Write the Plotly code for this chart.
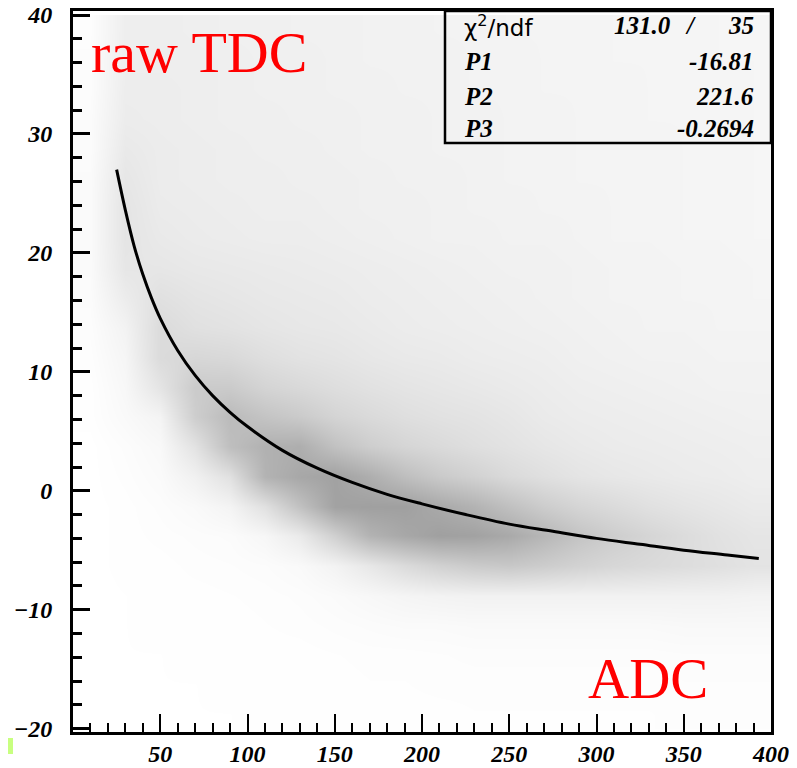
import plotly.graph_objects as go

# ---------------- data ----------------
# fit curve (ADC vs raw TDC)
fit_adc = [25, 30, 35, 40, 45, 50, 60, 70, 80, 90, 100, 120, 140, 160, 180,
           200, 225, 250, 275, 300, 325, 350, 375, 393]
fit_tdc = [27.0, 23.6, 20.6, 18.2, 16.2, 14.5, 11.8, 9.7, 8.0, 6.6, 5.4, 3.4,
           1.9, 0.7, -0.3, -1.1, -2.0, -2.8, -3.4, -4.0, -4.5, -5.0, -5.4, -5.7]

# scatter density (relative dot density) per ADC bin (20 wide) and TDC bin (2.5 wide)
adc_bins = [10, 30, 50, 70, 90, 110, 130, 150, 170, 190, 210, 230, 250, 270,
            290, 310, 330, 350, 370, 390]
tdc_bins = [-18.75, -16.25, -13.75, -11.25, -8.75, -6.25, -3.75, -1.25, 1.25,
            3.75, 6.25, 8.75, 11.25, 13.75, 16.25, 18.75, 21.25, 23.75, 26.25,
            28.75, 31.25, 33.75, 36.25, 38.75]
density_by_adc = [
    [0, 0, 0, 0, 0, 0, 0, 0, 0, 0, 0.1, 0.1, 0.2, 0.3, 0.4, 0.5, 0.5, 0.5, 0.5, 0.4, 0.4, 0.3, 0.3, 0.2],
    [0.05, 0.05, 0.05, 0.05, 0.05, 0.1, 0.1, 0.1, 0.2, 0.3, 0.6, 0.8, 1.0, 1.3, 2.0, 2.6, 2.8, 2.8, 2.6, 2.3, 2.0, 1.9, 1.8, 1.8],
    [0.05, 0.05, 0.05, 0.1, 0.1, 0.1, 0.2, 0.3, 0.5, 0.7, 1.2, 2.8, 3.8, 3.8, 3.2, 2.6, 2.3, 2.1, 2.0, 2.0, 1.9, 1.9, 1.8, 1.8],
    [0.05, 0.05, 0.1, 0.1, 0.1, 0.2, 0.3, 0.6, 1.5, 3.0, 5.2, 5.5, 4.2, 3.2, 2.8, 2.4, 2.1, 2.0, 1.9, 1.9, 1.8, 1.8, 1.8, 1.7],
    [0.05, 0.1, 0.1, 0.1, 0.15, 0.25, 0.4, 1.2, 3.2, 6.8, 7.2, 5.5, 4.0, 3.0, 2.6, 2.3, 2.0, 1.9, 1.8, 1.8, 1.7, 1.7, 1.7, 1.6],
    [0.1, 0.1, 0.1, 0.15, 0.2, 0.35, 0.9, 3.2, 8.0, 8.2, 6.2, 4.5, 3.4, 2.7, 2.4, 2.2, 1.9, 1.8, 1.8, 1.7, 1.7, 1.6, 1.6, 1.6],
    [0.1, 0.1, 0.1, 0.2, 0.3, 0.6, 2.2, 6.5, 9.2, 8.5, 5.5, 4.0, 3.0, 2.5, 2.3, 2.1, 1.9, 1.8, 1.7, 1.7, 1.6, 1.6, 1.6, 1.5],
    [0.1, 0.1, 0.15, 0.3, 0.5, 1.3, 5.0, 9.8, 9.8, 6.5, 4.5, 3.5, 2.8, 2.4, 2.2, 2.0, 1.8, 1.7, 1.7, 1.6, 1.6, 1.5, 1.5, 1.5],
    [0.1, 0.15, 0.2, 0.4, 0.8, 2.5, 8.0, 10.0, 8.5, 5.2, 3.9, 3.1, 2.5, 2.2, 2.0, 1.9, 1.7, 1.6, 1.6, 1.5, 1.5, 1.5, 1.4, 1.4],
    [0.1, 0.15, 0.2, 0.5, 1.1, 3.8, 9.2, 10.0, 6.8, 4.4, 3.4, 2.8, 2.3, 2.0, 1.9, 1.8, 1.6, 1.6, 1.5, 1.5, 1.5, 1.4, 1.4, 1.4],
    [0.1, 0.2, 0.25, 0.5, 1.3, 4.8, 10.0, 9.0, 5.6, 3.9, 3.1, 2.6, 2.2, 1.9, 1.8, 1.7, 1.5, 1.5, 1.5, 1.4, 1.4, 1.4, 1.4, 1.3],
    [0.15, 0.2, 0.3, 0.6, 1.4, 5.5, 9.8, 8.0, 4.8, 3.4, 2.9, 2.4, 2.0, 1.8, 1.7, 1.6, 1.5, 1.4, 1.4, 1.4, 1.4, 1.3, 1.3, 1.3],
    [0.15, 0.2, 0.3, 0.6, 1.4, 5.8, 9.0, 6.6, 3.9, 3.0, 2.6, 2.2, 1.9, 1.7, 1.6, 1.5, 1.4, 1.4, 1.3, 1.3, 1.3, 1.3, 1.3, 1.2],
    [0.15, 0.2, 0.3, 0.6, 1.4, 5.3, 7.6, 5.3, 3.3, 2.6, 2.2, 2.0, 1.8, 1.6, 1.5, 1.5, 1.4, 1.3, 1.3, 1.3, 1.3, 1.2, 1.2, 1.2],
    [0.15, 0.2, 0.3, 0.6, 1.4, 4.7, 6.2, 4.4, 2.8, 2.3, 2.0, 1.8, 1.6, 1.5, 1.4, 1.4, 1.3, 1.3, 1.2, 1.2, 1.2, 1.2, 1.2, 1.2],
    [0.15, 0.2, 0.3, 0.6, 1.4, 4.2, 5.2, 3.8, 2.5, 2.1, 1.9, 1.7, 1.5, 1.4, 1.3, 1.3, 1.2, 1.2, 1.2, 1.2, 1.2, 1.2, 1.1, 1.1],
    [0.15, 0.2, 0.3, 0.6, 1.4, 3.9, 4.4, 3.2, 2.3, 2.0, 1.8, 1.6, 1.4, 1.3, 1.3, 1.3, 1.2, 1.2, 1.2, 1.2, 1.1, 1.1, 1.1, 1.1],
    [0.2, 0.25, 0.35, 0.7, 1.4, 3.6, 3.7, 2.8, 2.1, 1.9, 1.7, 1.5, 1.4, 1.3, 1.2, 1.2, 1.1, 1.1, 1.1, 1.1, 1.1, 1.1, 1.1, 1.1],
    [0.2, 0.25, 0.35, 0.7, 1.4, 3.3, 3.1, 2.5, 2.0, 1.8, 1.6, 1.4, 1.3, 1.2, 1.2, 1.2, 1.1, 1.1, 1.1, 1.1, 1.1, 1.1, 1.0, 1.0],
    [0.2, 0.25, 0.35, 0.7, 1.3, 2.9, 2.7, 2.2, 1.8, 1.7, 1.5, 1.4, 1.3, 1.2, 1.1, 1.1, 1.0, 1.0, 1.0, 1.0, 1.0, 1.0, 1.0, 1.0],
]

x_tick_vals = [50, 100, 150, 200, 250, 300, 350, 400]
y_tick_vals = [-20, -10, 0, 10, 20, 30, 40]

stat_names = ["P1", "P2", "P3"]
stat_values = ["-16.81", "221.6", "-0.2694"]
chi2_value = "131.0"
ndf_value = "35"

# ---------------- figure ----------------
density_grid = [list(row) for row in zip(*density_by_adc)]  # rows = TDC bins

fig = go.Figure()
fig.add_trace(go.Heatmap(
    x=adc_bins, y=tdc_bins, z=density_grid,
    zmin=0, zmax=10, zsmooth="best",
    colorscale=[[0, "#ffffff"], [1, "#a0a0a0"]],
    showscale=False, hoverinfo="skip",
))
fig.add_trace(go.Scatter(
    x=fit_adc, y=fit_tdc, mode="lines",
    line=dict(color="black", width=3, shape="spline"),
    hoverinfo="skip", showlegend=False,
))

tick_font = dict(family="Liberation Serif", size=24, color="black",
                 weight="bold", style="italic")

# the page body has an 8px default margin: the figure is made 8px smaller
# and its margins are reduced accordingly
fig.update_layout(
    width=789, height=760,
    margin=dict(l=65, r=26, t=3, b=36, autoexpand=False),
    paper_bgcolor="white", plot_bgcolor="white",
    showlegend=False,
    xaxis=dict(
        range=[0, 400], showgrid=False, zeroline=False, automargin=False,
        showline=True, linecolor="black", linewidth=3, mirror=True,
        tickmode="array", tickvals=x_tick_vals,
        ticks="inside", ticklen=18, tickwidth=2, tickcolor="black",
        tickfont=tick_font, ticklabelstandoff=-2, ticklabeloverflow="allow",
        minor=dict(tickmode="array",
                   tickvals=[v for v in range(10, 400, 10) if v % 50],
                   ticks="inside", ticklen=9, tickwidth=2, tickcolor="black"),
    ),
    yaxis=dict(
        range=[-20.28, 40.34], showgrid=False, zeroline=False, automargin=False,
        showline=True, linecolor="black", linewidth=3, mirror=True,
        tickmode="array", tickvals=y_tick_vals,
        ticks="inside", ticklen=17, tickwidth=2.5, tickcolor="black",
        tickfont=tick_font, ticklabelstandoff=13, ticklabeloverflow="allow",
        minor=dict(tickmode="array",
                   tickvals=[v for v in range(-18, 40, 2) if v % 10],
                   ticks="inside", ticklen=9, tickwidth=2.5, tickcolor="black"),
    ),
)

# paper-coordinate helpers for the plot area (page pixels)
PX0, PX1, PY0, PY1 = 73.0, 771.0, 11.0, 732.0


def px(xp):
    return (xp - PX0) / (PX1 - PX0)


def py(yp):
    return (PY1 - yp) / (PY1 - PY0)


# stats box (transparent, like ROOT)
fig.add_shape(type="rect", xref="paper", yref="paper",
              x0=px(445), x1=1.0, y0=py(143), y1=1.0,
              line=dict(color="black", width=2.5), fillcolor="rgba(0,0,0,0)")

stat_font = dict(family="Liberation Serif", size=25, color="black",
                 weight="bold", style="italic")
row_y = [py(26), py(62), py(97), py(128)]
fig.add_annotation(xref="paper", yref="paper", x=px(462), y=row_y[0],
                   xanchor="left", yanchor="middle", showarrow=False,
                   text="χ<sup>2</sup>/ndf",
                   font=dict(family="DejaVu Sans", size=23, color="black"))
fig.add_annotation(xref="paper", yref="paper", x=px(673), y=row_y[0],
                   xanchor="right", yanchor="middle", showarrow=False,
                   text=chi2_value, font=stat_font)
fig.add_annotation(xref="paper", yref="paper", x=px(690), y=row_y[0],
                   xanchor="center", yanchor="middle", showarrow=False,
                   text="/", font=stat_font)
fig.add_annotation(xref="paper", yref="paper", x=px(756), y=row_y[0],
                   xanchor="right", yanchor="middle", showarrow=False,
                   text=ndf_value, font=stat_font)
for name, val, yy in zip(stat_names, stat_values, row_y[1:]):
    fig.add_annotation(xref="paper", yref="paper", x=px(462), y=yy,
                       xanchor="left", yanchor="middle", showarrow=False,
                       text=name, font=stat_font)
    fig.add_annotation(xref="paper", yref="paper", x=px(756), y=yy,
                       xanchor="right", yanchor="middle", showarrow=False,
                       text=val, font=stat_font)

# red labels
fig.add_annotation(xref="paper", yref="paper", x=px(89), y=py(53),
                   xanchor="left", yanchor="middle", showarrow=False,
                   text="raw TDC",
                   font=dict(family="Liberation Serif", size=58, color="#ff0000"))
fig.add_annotation(xref="paper", yref="paper", x=px(648), y=py(678),
                   xanchor="center", yanchor="middle", showarrow=False,
                   text="ADC",
                   font=dict(family="Liberation Serif", size=57, color="#ff0000"))

# small green marks in the bottom corners of the picture
fig.add_shape(type="rect", xref="paper", yref="paper",
              x0=px(0), x1=px(13), y0=py(754), y1=py(738),
              line=dict(width=0), fillcolor="#c8ff80")
fig.add_shape(type="rect", xref="paper", yref="paper",
              x0=px(791), x1=px(796), y0=py(753), y1=py(740),
              line=dict(width=0), fillcolor="#88ffa8")

fig.write_html("out.html", config={"displayModeBar": False})
